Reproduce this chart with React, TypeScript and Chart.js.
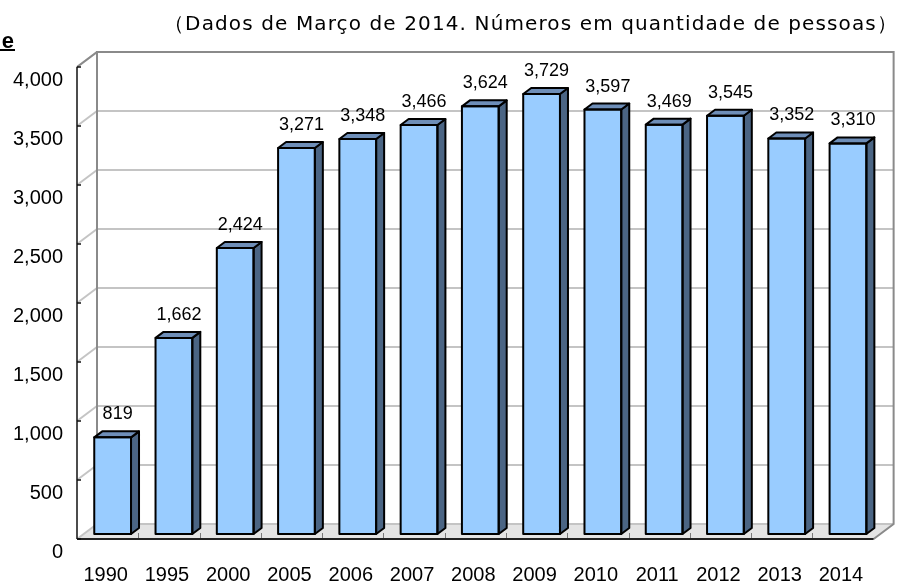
import React, { useEffect, useRef } from 'react';
import { Chart, registerables } from 'chart.js';

Chart.register(...registerables);

// ---- data ----
const years = ['1990', '1995', '2000', '2005', '2006', '2007', '2008', '2009', '2010', '2011', '2012', '2013', '2014'];
const people = [819, 1662, 2424, 3271, 3348, 3466, 3624, 3729, 3597, 3469, 3545, 3352, 3310];
const yTickValues = [0, 500, 1000, 1500, 2000, 2500, 3000, 3500, 4000];
const noteText = '（Dados de Março de 2014. Números em quantidade de pessoas）';
const cutTitleText = 'e';

// ---- 3D geometry (style only) ----
const FRONT = { dx: -5, dy: 5 };
const BACK = { dx: 15, dy: -10 };
const DEPTH = { dx: 8, dy: -6 };

const fmt = (v: number) => v.toLocaleString('en-US');

const wallsPlugin = {
  id: 'walls3d',
  beforeDatasetsDraw(chart: any) {
    const { ctx, chartArea } = chart;
    const ys = chart.scales.y;
    const xl = chartArea.left;
    const xr = chartArea.right;
    const top = chartArea.top;
    const bottom = chartArea.bottom;
    ctx.save();
    // floor
    ctx.beginPath();
    ctx.moveTo(xl + FRONT.dx, bottom + FRONT.dy);
    ctx.lineTo(xr + FRONT.dx, bottom + FRONT.dy);
    ctx.lineTo(xr + BACK.dx, bottom + BACK.dy);
    ctx.lineTo(xl + BACK.dx, bottom + BACK.dy);
    ctx.closePath();
    ctx.fillStyle = '#e4e4e4';
    ctx.fill();
    // grid lines (back wall + side wall)
    ctx.lineWidth = 2;
    ctx.strokeStyle = '#c4c4c4';
    yTickValues.forEach((v) => {
      const y = ys.getPixelForValue(v);
      ctx.beginPath();
      ctx.moveTo(xl + BACK.dx, y + BACK.dy);
      ctx.lineTo(xr + BACK.dx, y + BACK.dy);
      ctx.stroke();
      ctx.beginPath();
      ctx.moveTo(xl + FRONT.dx, y + FRONT.dy);
      ctx.lineTo(xl + BACK.dx, y + BACK.dy);
      ctx.stroke();
    });
    // back wall frame
    ctx.strokeStyle = '#8a8a8a';
    ctx.lineWidth = 2;
    ctx.beginPath();
    ctx.moveTo(xl + BACK.dx, bottom + BACK.dy);
    ctx.lineTo(xl + BACK.dx, top + BACK.dy);
    ctx.lineTo(xr + BACK.dx, top + BACK.dy);
    ctx.lineTo(xr + BACK.dx, bottom + BACK.dy);
    ctx.lineTo(xr + FRONT.dx, bottom + FRONT.dy);
    ctx.stroke();
    ctx.beginPath();
    ctx.moveTo(xl + FRONT.dx, top + FRONT.dy);
    ctx.lineTo(xl + BACK.dx, top + BACK.dy);
    ctx.stroke();
    // floor category dividers
    const n = years.length;
    ctx.strokeStyle = '#7a7a7a';
    ctx.lineWidth = 1;
    for (let i = 1; i < n; i++) {
      const xf = Math.round(xl + FRONT.dx + (i * (xr - xl)) / n) + 0.5;
      ctx.beginPath();
      ctx.moveTo(xf, bottom + FRONT.dy);
      ctx.lineTo(xf, bottom - 1);
      ctx.stroke();
    }
    // front floor edge
    ctx.strokeStyle = '#222';
    ctx.lineWidth = 2;
    ctx.beginPath();
    ctx.moveTo(xl + FRONT.dx, bottom + FRONT.dy);
    ctx.lineTo(xr + FRONT.dx, bottom + FRONT.dy);
    ctx.stroke();
    // front value axis
    ctx.strokeStyle = '#111';
    ctx.lineWidth = 1.5;
    ctx.beginPath();
    ctx.moveTo(xl + FRONT.dx, top + FRONT.dy);
    ctx.lineTo(xl + FRONT.dx, bottom + FRONT.dy);
    ctx.stroke();
    yTickValues.forEach((v) => {
      const y = ys.getPixelForValue(v);
      ctx.beginPath();
      ctx.moveTo(xl + FRONT.dx, y + FRONT.dy);
      ctx.lineTo(xl + FRONT.dx + 4, y + FRONT.dy);
      ctx.stroke();
    });
    ctx.restore();
  },
  afterDatasetsDraw(chart: any) {
    const { ctx } = chart;
    const meta = chart.getDatasetMeta(0);
    ctx.save();
    ctx.lineWidth = 2;
    ctx.lineJoin = 'round';
    ctx.strokeStyle = '#000';
    meta.data.forEach((bar: any, i: number) => {
      const p = bar.getProps(['x', 'y', 'base', 'width'], true);
      const x0 = p.x - p.width / 2;
      const x1 = p.x + p.width / 2;
      const t = p.y;
      const b = p.base;
      // side face
      ctx.beginPath();
      ctx.moveTo(x1, t);
      ctx.lineTo(x1 + DEPTH.dx, t + DEPTH.dy);
      ctx.lineTo(x1 + DEPTH.dx, b + DEPTH.dy);
      ctx.lineTo(x1, b);
      ctx.closePath();
      ctx.fillStyle = '#4b6584';
      ctx.fill();
      ctx.stroke();
      // top face
      ctx.beginPath();
      ctx.moveTo(x0, t);
      ctx.lineTo(x1, t);
      ctx.lineTo(x1 + DEPTH.dx, t + DEPTH.dy);
      ctx.lineTo(x0 + DEPTH.dx, t + DEPTH.dy);
      ctx.closePath();
      ctx.fillStyle = '#6e8eb8';
      ctx.fill();
      ctx.stroke();
      // front outline
      ctx.strokeRect(x0, t, p.width, b - t);
      // value label
      ctx.fillStyle = '#000';
      ctx.font = '18px "Liberation Sans", Arial, sans-serif';
      ctx.textAlign = 'center';
      ctx.textBaseline = 'alphabetic';
      ctx.fillText(fmt(people[i]), p.x + 5, t + DEPTH.dy - 12);
    });
    ctx.restore();
  },
  afterDraw(chart: any) {
    const { ctx } = chart;
    ctx.save();
    // note text (top right)
    ctx.font = '20px "DejaVu Sans", sans-serif';
    ctx.fillStyle = '#000';
    ctx.textBaseline = 'middle';
    ctx.textAlign = 'left';
    const chars = Array.from(noteText).length;
    const w = ctx.measureText(noteText).width;
    const spacing = Math.max(0, (734 - w) / chars);
    (ctx as any).letterSpacing = spacing + 'px';
    ctx.fillText(noteText, 164, 25);
    (ctx as any).letterSpacing = '0px';
    // cut-off title fragment
    ctx.font = 'bold 22px "Liberation Sans", Arial, sans-serif';
    ctx.textAlign = 'right';
    ctx.textBaseline = 'alphabetic';
    ctx.fillText(cutTitleText, 14, 48);
    ctx.fillRect(0, 49, 15, 2);
    ctx.restore();
  },
};

export default function App() {
  const ref = useRef<HTMLCanvasElement | null>(null);
  useEffect(() => {
    if (!ref.current) return;
    const chart = new Chart(ref.current, {
      type: 'bar',
      data: {
        labels: years,
        datasets: [
          {
            data: people,
            backgroundColor: '#99ccff',
            borderColor: '#000',
            borderWidth: 0,
            categoryPercentage: 1,
            barPercentage: 0.6,
          },
        ],
      },
      options: {
        animation: false,
        responsive: false,
        maintainAspectRatio: false,
        devicePixelRatio: 1,
        layout: { padding: { top: 62, right: 20, left: 0, bottom: 0 }, autoPadding: false },
        plugins: { legend: { display: false }, tooltip: { enabled: false }, title: { display: false } },
        scales: {
          x: {
            grid: { display: false, drawTicks: false },
            border: { display: false },
            ticks: {
              color: '#000',
              font: { size: 20, family: '"Liberation Sans", Arial, sans-serif' },
              padding: 29,
              labelOffset: -7,
              maxRotation: 0,
              autoSkip: false,
            },
            afterFit: (s: any) => {
              s.height = 51;
            },
          },
          y: {
            min: 0,
            max: 4000,
            grid: { display: false, drawTicks: false },
            border: { display: false },
            afterBuildTicks: (s: any) => {
              s.ticks = yTickValues.map((v) => ({ value: v }));
            },
            ticks: {
              color: '#000',
              font: { size: 20, family: '"Liberation Sans", Arial, sans-serif' },
              padding: 19,
              labelOffset: 18,
              callback: (v: any) => fmt(Number(v)),
            },
            afterFit: (s: any) => {
              s.width = 82;
            },
          },
        },
      },
      plugins: [wallsPlugin],
    });
    return () => chart.destroy();
  }, []);
  return (
    <div style={{ position: 'absolute', left: 0, top: 0, width: 900, height: 585, background: '#fff' }}>
      <canvas ref={ref} width={900} height={585} style={{ display: 'block', width: 900, height: 585 }} />
    </div>
  );
}
